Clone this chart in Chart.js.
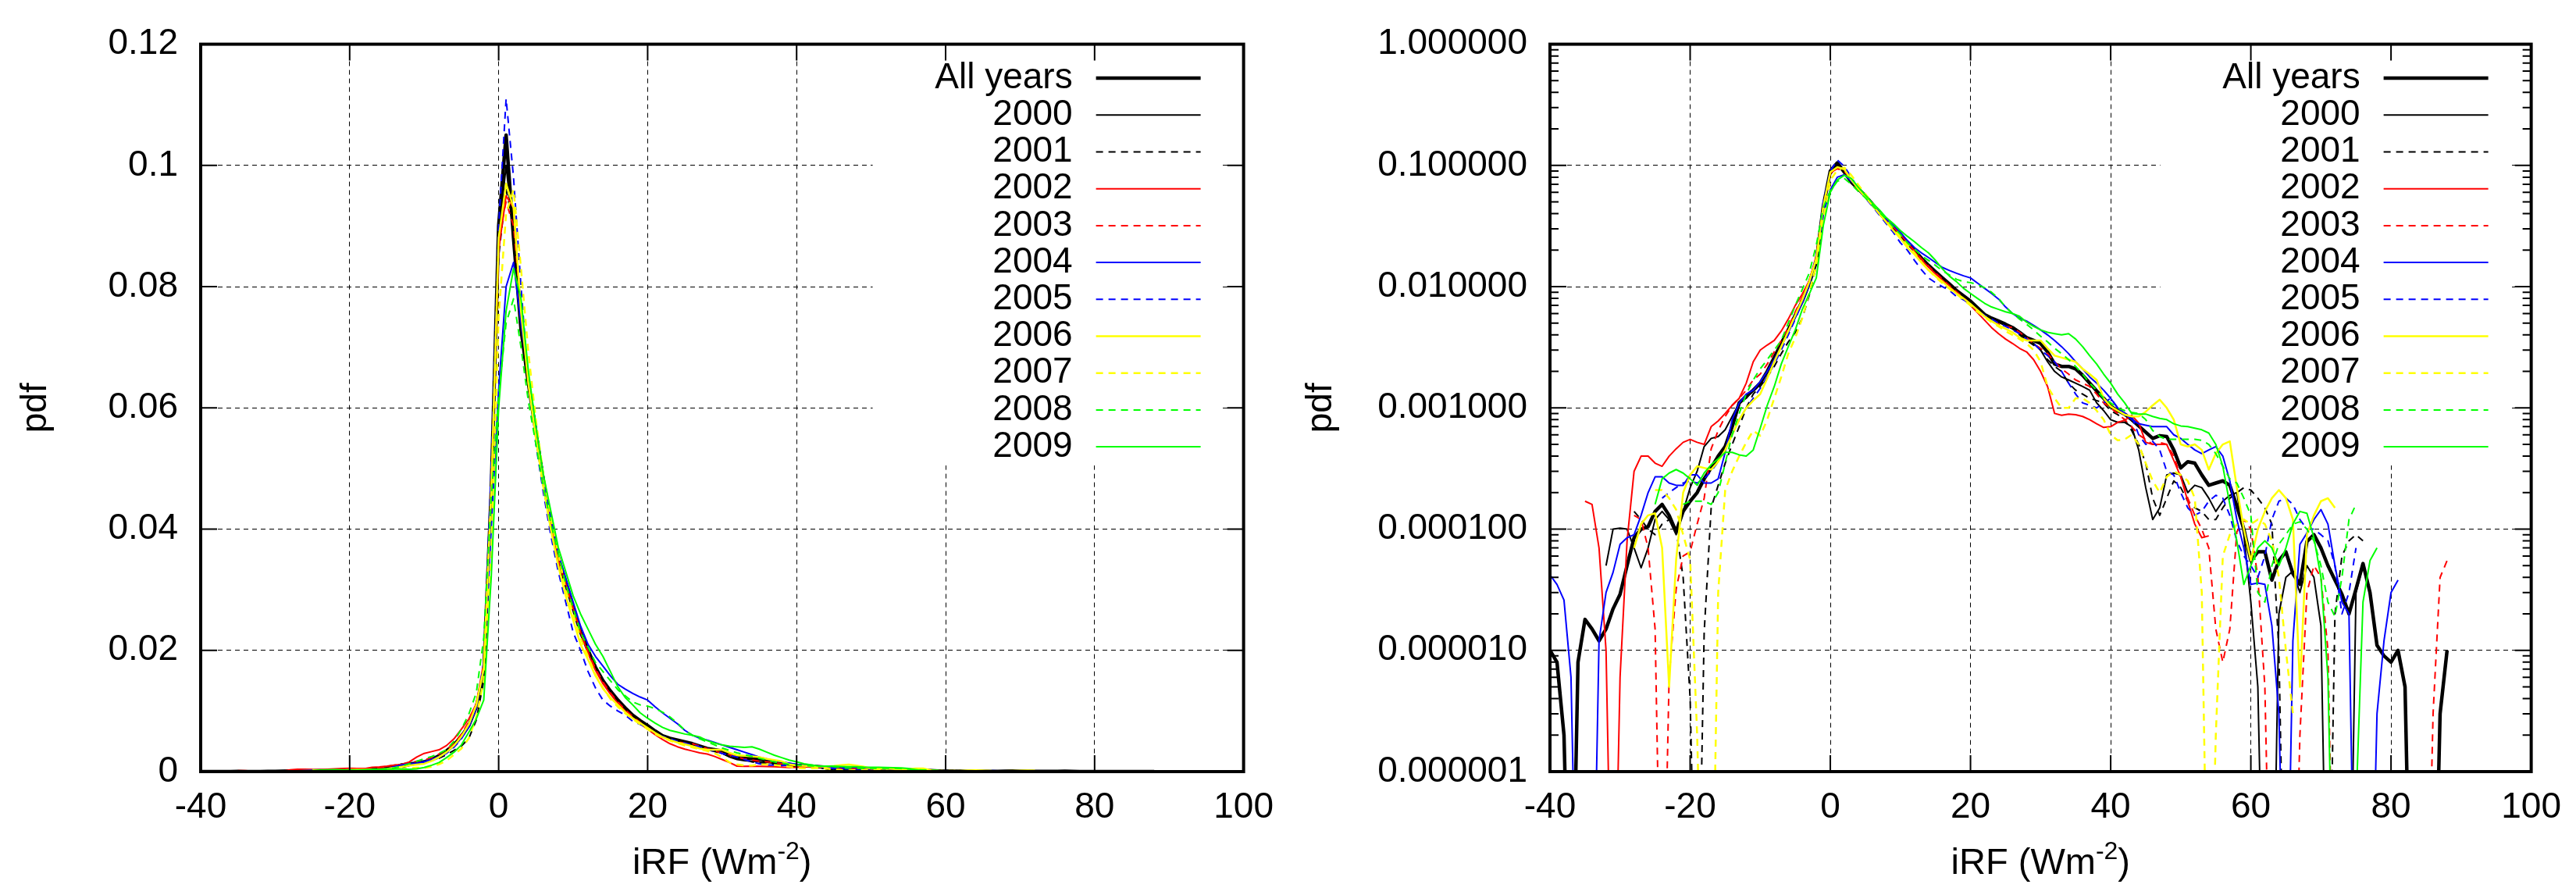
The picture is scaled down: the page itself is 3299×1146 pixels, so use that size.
<!DOCTYPE html>
<html>
<head>
<meta charset="utf-8">
<title>iRF pdf</title>
<script src="https://cdn.jsdelivr.net/npm/chart.js@4/dist/chart.umd.min.js"></script>
<style>
  html, body { margin: 0; padding: 0; background: #fff; }
  #wrap { position: relative; width: 3299px; height: 1146px; }
  .panel { position: absolute; top: 0; height: 1146px; }
  #p1 { left: 0; width: 1650px; }
  #p2 { left: 1650px; width: 1649px; }
</style>
</head>
<body>
<div id="wrap">
  <div class="panel" id="p1"><canvas id="c1" width="1650" height="1146"></canvas></div>
  <div class="panel" id="p2"><canvas id="c2" width="1649" height="1146"></canvas></div>
</div>
<script>
// bin centres (Wm-2)
const xValues = [
  -40, -39, -38, -37, -36, -35, -34, -33, -32, -31,
  -30, -29, -28, -27, -26, -25, -24, -23, -22, -21,
  -20, -19, -18, -17, -16, -15, -14, -13, -12, -11,
  -10, -9, -8, -7, -6, -5, -4, -3, -2, -1,
  0, 1, 2, 3, 4, 5, 6, 7, 8, 9,
  10, 11, 12, 13, 14, 15, 16, 17, 18, 19,
  20, 21, 22, 23, 24, 25, 26, 27, 28, 29,
  30, 31, 32, 33, 34, 35, 36, 37, 38, 39,
  40, 41, 42, 43, 44, 45, 46, 47, 48, 49,
  50, 51, 52, 53, 54, 55, 56, 57, 58, 59,
  60, 61, 62, 63, 64, 65, 66, 67, 68, 69,
  70, 71, 72, 73, 74, 75, 76, 77, 78, 79,
  80, 81, 82, 83, 84, 85, 86, 87, 88
];

const seriesNames = ['All years', '2000', '2001', '2002', '2003', '2004', '2005', '2006', '2007', '2008', '2009'];

// pdf per bin; 1e-8 = bin far below the plotted range
const allYears = [
  1.0e-5, 8e-6, 2e-6, 1e-8, 8e-6, 1.8e-5, 1.5e-5, 1.2e-5, 1.5e-5, 2.2e-5,
  2.9e-5, 5e-5, 8.5e-5, 1.0e-4, 1.05e-4, 1.4e-4, 1.6e-4, 1.3e-4, 9.5e-5, 1.4e-4,
  1.7e-4, 2.0e-4, 2.6e-4, 3.2e-4, 4.0e-4, 4.8e-4, 7.0e-4, 1.1e-3, 1.25e-3, 1.4e-3,
  1.6e-3, 2.0e-3, 2.6e-3, 3.4e-3, 4.4e-3, 5.8e-3, 7.6e-3, 0.0107, 0.016, 0.046,
  0.090, 0.105, 0.088, 0.073, 0.064, 0.056, 0.048, 0.041, 0.035, 0.031,
  0.027, 0.023, 0.020, 0.0172, 0.015, 0.0133, 0.0118, 0.0105, 0.0093, 0.0084,
  0.0076, 0.0067, 0.0059, 0.0055, 0.0052, 0.0049, 0.0046, 0.0042, 0.0038, 0.0036,
  0.0034, 0.0029, 0.0023, 0.0022, 0.0022, 0.0021, 0.00186, 0.0016, 0.00138, 0.0012,
  0.00103, 0.00095, 0.00089, 0.0008, 0.00071, 0.00063, 0.00056, 0.00059, 0.00058, 0.00045,
  0.00032, 0.00036, 0.00035, 0.00028, 0.00023, 0.00024, 0.00025, 0.00023, 0.000155, 0.0001,
  5.5e-5, 6.5e-5, 6.5e-5, 3.8e-5, 5.5e-5, 6.5e-5, 4.3e-5, 3.5e-5, 7.9e-5, 9e-5,
  7e-5, 5e-5, 3.8e-5, 2.9e-5, 2e-5, 3.2e-5, 5.2e-5, 3e-5, 1.1e-5, 9e-6,
  8e-6, 1e-5, 5e-6, 1e-8, 1e-8, 1e-8, 1e-8, 3e-6, 1e-5
];

const y2000 = [
  null, null, null, null, null, null, null, null, 5e-5, 1.0e-4,
  1.02e-4, 1.0e-4, 7e-5, 4.8e-5, 7e-5, 1.2e-4, 1.4e-4, 1.2e-4, 9e-5, 1.4e-4,
  2.2e-4, 3.0e-4, 4.8e-4, 5.6e-4, 5.8e-4, 6.6e-4, 8.5e-4, 1.1e-3, 1.2e-3, 1.4e-3,
  1.6e-3, 2.0e-3, 2.6e-3, 3.5e-3, 4.5e-3, 6.0e-3, 7.8e-3, 0.011, 0.017, 0.047,
  0.088, 0.100, 0.088, 0.074, 0.064, 0.056, 0.048, 0.041, 0.035, 0.031,
  0.027, 0.023, 0.020, 0.017, 0.0148, 0.013, 0.0116, 0.0103, 0.0092, 0.0083,
  0.0075, 0.0066, 0.0058, 0.0054, 0.0051, 0.0048, 0.0045, 0.0041, 0.0037, 0.0034,
  0.003, 0.0024, 0.002, 0.0018, 0.0017, 0.0016, 0.0015, 0.0014, 0.0011, 0.00095,
  0.0008, 0.00076, 0.00076, 0.0007, 0.00045, 0.00022, 0.00012, 0.00015, 0.00028, 0.00029,
  0.00028, 0.0002, 0.00023, 0.00022, 0.00018, 0.00014, 0.00017, 0.00019, 0.0002, 9e-5,
  2.5e-5, 5e-6, 1e-8, 1e-8, 2e-5, 4e-5, 4.5e-5, 3e-5, 5e-5, 4e-5,
  1.6e-5, 1e-8, 1e-8, 1e-8, 1e-8, 3e-5, 5e-5, null, null, null,
  null, null, null, null, null, null, null, null, null
];

const y2001 = [
  null, null, null, null, null, null, null, null, null, null,
  null, null, 1.4e-4, 1.2e-4, 1.0e-4, 9e-5, 1.1e-4, 1.2e-4, 1.0e-4, 4e-5,
  4e-6, 1e-8, 1.4e-5, 1.5e-4, 2.3e-4, 3.5e-4, 5e-4, 7e-4, 1.0e-3, 1.3e-3,
  1.5e-3, 1.8e-3, 2.2e-3, 2.8e-3, 3.5e-3, 4.2e-3, 5.5e-3, 8.5e-3, 0.015, 0.042,
  0.085, 0.096, 0.090, 0.076, 0.065, 0.057, 0.049, 0.042, 0.036, 0.031,
  0.027, 0.023, 0.020, 0.0172, 0.015, 0.0132, 0.0117, 0.0104, 0.0093, 0.0083,
  0.0075, 0.0066, 0.0058, 0.0054, 0.0051, 0.0048, 0.0045, 0.004, 0.0036, 0.0033,
  0.003, 0.0025, 0.0022, 0.002, 0.0016, 0.0014, 0.0013, 0.0012, 0.00115, 0.0011,
  0.00095, 0.00088, 0.0008, 0.00065, 0.0005, 0.00035, 0.00018, 0.00013, 0.00018, 0.00025,
  0.00022, 0.00017, 0.00015, 0.00014, 0.00012, 0.00012, 0.00015, 0.00018, 0.0002, 0.00022,
  0.00021, 0.00018, 0.00015, 0.00011, 1e-5, 1e-8, 1e-8, 1e-8, 1e-8, 1e-8,
  1e-8, 1e-8, 2e-5, 6e-5, 8e-5, 9e-5, 8e-5, null, null, null,
  null, null, null, null, null, null, null, null, null
];

const y2002 = [
  null, null, null, null, null, 1.7e-4, 1.6e-4, 7e-5, 1e-5, 1e-8,
  6e-6, 8e-5, 3.0e-4, 4.0e-4, 4.0e-4, 3.5e-4, 3.3e-4, 4.0e-4, 4.6e-4, 5.2e-4,
  5.5e-4, 5.2e-4, 5.0e-4, 7.0e-4, 7.8e-4, 9.0e-4, 1.05e-3, 1.2e-3, 1.6e-3, 2.4e-3,
  3.0e-3, 3.3e-3, 3.6e-3, 4.3e-3, 5.4e-3, 7.0e-3, 8.7e-3, 0.0112, 0.018, 0.047,
  0.086, 0.095, 0.093, 0.076, 0.064, 0.056, 0.048, 0.041, 0.035, 0.031,
  0.027, 0.023, 0.0195, 0.0167, 0.0145, 0.0128, 0.0113, 0.0100, 0.0089, 0.0079,
  0.0070, 0.0061, 0.0053, 0.0046, 0.0041, 0.0037, 0.0034, 0.0031, 0.0029, 0.0025,
  0.0020, 0.0015, 0.0009, 0.00087, 0.00089, 0.00088, 0.00085, 0.0008, 0.00074, 0.00069,
  0.0007, 0.00076, 0.00079, 0.00087, 0.00075, 0.00052, 0.0005, 0.0005, 0.0005, 0.00037,
  0.00027, 0.00017, 0.00011, 8.5e-5, 8.8e-5, null, null, null, null, null,
  null, null, null, null, null, null, null, null, null, null,
  null, null, null, null, null, null, null, null, null, null,
  null, null, null, null, null, null, null, null, null
];

const y2003 = [
  null, null, null, null, null, null, null, null, null, null,
  null, null, 1.3e-4, 1.2e-4, 7e-5, 1.5e-5, 1e-8, 6e-6, 3.2e-5, 6e-5,
  6.5e-5, 1.1e-4, 1.8e-4, 4.6e-4, 6.5e-4, 8.5e-4, 1.05e-3, 1.2e-3, 1.4e-3, 1.7e-3,
  1.9e-3, 2.3e-3, 2.9e-3, 3.6e-3, 4.6e-3, 6.2e-3, 8.2e-3, 0.0112, 0.017, 0.045,
  0.088, 0.094, 0.090, 0.076, 0.065, 0.056, 0.048, 0.041, 0.035, 0.031,
  0.027, 0.023, 0.0198, 0.017, 0.0148, 0.013, 0.0115, 0.0102, 0.0091, 0.0081,
  0.0072, 0.0064, 0.0057, 0.0052, 0.0049, 0.0047, 0.0046, 0.0042, 0.0038, 0.0034,
  0.0031, 0.0028, 0.0024, 0.0021, 0.0019, 0.0017, 0.0016, 0.0015, 0.0013, 0.0011,
  0.001, 0.0009, 0.0008, 0.0007, 0.0006, 0.00055, 0.0005, 0.00052, 0.0005, 0.0004,
  0.00027, 0.00018, 0.00013, 0.0001, 7e-5, 1.5e-5, 8e-6, 1.5e-5, 9.5e-5, 1.2e-4,
  1.0e-4, 4e-5, 5e-6, 1e-8, 1e-8, 1e-8, 1e-8, 2e-6, 3e-5, 5e-5,
  4e-5, 1e-5, 1e-8, 1e-8, 1e-8, 1e-8, 1e-8, 1e-8, 1e-8, 1e-8,
  1e-8, 1e-8, 1e-8, 1e-8, 1e-8, 1e-8, 3e-6, 4e-5, 5.5e-5
];

const y2004 = [
  4.2e-5, 3.5e-5, 2.6e-5, 6e-6, 1e-8, 1e-8, 1e-8, 1.2e-5, 3e-5, 4.4e-5,
  7.5e-5, 8.5e-5, 9e-5, 1.3e-4, 2e-4, 2.7e-4, 2.7e-4, 2.4e-4, 2.3e-4, 2.3e-4,
  2.8e-4, 2.8e-4, 2.4e-4, 2.4e-4, 2.6e-4, 4.3e-4, 8e-4, 1.1e-3, 1.3e-3, 1.4e-3,
  1.65e-3, 2.0e-3, 2.5e-3, 3.2e-3, 4.2e-3, 5.6e-3, 7.4e-3, 0.0105, 0.017, 0.040,
  0.063, 0.080, 0.084, 0.074, 0.065, 0.057, 0.048, 0.042, 0.036, 0.032,
  0.028, 0.024, 0.021, 0.019, 0.0174, 0.0158, 0.0144, 0.0136, 0.0129, 0.0123,
  0.0118, 0.0107, 0.0097, 0.0088, 0.0079, 0.0068, 0.006, 0.0055, 0.0052, 0.0048,
  0.0044, 0.004, 0.0036, 0.0032, 0.0028, 0.0024, 0.0021, 0.0018, 0.0016, 0.0014,
  0.0012, 0.001, 0.0009, 0.0008, 0.00074, 0.00072, 0.0007, 0.0007, 0.0007, 0.0006,
  0.00056, 0.0005, 0.00045, 0.00042, 0.00045, 0.00048, 0.0004, 0.00025, 0.00012, 7e-5,
  3.5e-5, 3.6e-5, 3.5e-5, 1.6e-5, 3e-6, 1e-8, 1.2e-5, 7.5e-5, 9.3e-5, 1.2e-4,
  1.45e-4, 1.1e-4, 5e-5, 2.5e-5, 2e-5, 1e-8, 1e-8, 1e-8, 3e-6, 1.2e-5,
  3e-5, 3.8e-5, null, null, null, null, null, null, null
];

const y2005 = [
  null, null, null, null, null, null, null, null, null, null,
  null, null, null, null, null, null, 1.8e-4, 2e-4, 2.2e-4, 2.4e-4,
  2.5e-4, 2.4e-4, 2.6e-4, 3.0e-4, 3.6e-4, 4.5e-4, 6e-4, 8e-4, 1.0e-3, 1.2e-3,
  1.45e-3, 1.8e-3, 2.3e-3, 3.0e-3, 4.0e-3, 5.4e-3, 7.4e-3, 0.0105, 0.018, 0.050,
  0.090, 0.111, 0.098, 0.080, 0.064, 0.054, 0.046, 0.039, 0.033, 0.028,
  0.023, 0.020, 0.0165, 0.0138, 0.0118, 0.0108, 0.0100, 0.0093, 0.0083, 0.0078,
  0.0072, 0.0064, 0.0058, 0.0054, 0.005, 0.0047, 0.0044, 0.0041, 0.0037, 0.0034,
  0.003, 0.0027, 0.0024, 0.002, 0.0016, 0.0013, 0.0011, 0.00105, 0.001, 0.0011,
  0.0012, 0.001, 0.0009, 0.00085, 0.0006, 0.0005, 0.00053, 0.00045, 0.0003, 0.00028,
  0.0002, 0.00015, 0.00013, 0.00014, 0.00017, 0.00019, 0.00018, 0.00013, 8e-5, 6e-5,
  5e-5, 4e-5, 6e-5, 1.2e-4, 1.7e-4, 1.8e-4, 1.6e-4, 1.2e-4, 1.0e-4, 1.0e-4,
  9e-5, 8e-5, 5e-5, 2e-5, 3e-5, 7e-5, null, null, null, null,
  null, null, null, null, null, null, null, null, null
];

const y2006 = [
  null, null, null, null, null, null, null, null, null, null,
  null, null, 7e-5, 1.1e-4, 1.3e-4, 1.35e-4, 7e-5, 5e-6, 5.6e-5, 2e-4,
  2.8e-4, 3.3e-4, 3.2e-4, 3.1e-4, 3.6e-4, 4.5e-4, 6e-4, 8e-4, 1.0e-3, 1.15e-3,
  1.3e-3, 1.75e-3, 2.4e-3, 3.2e-3, 4.3e-3, 5.8e-3, 7.8e-3, 0.011, 0.017, 0.046,
  0.088, 0.097, 0.093, 0.076, 0.064, 0.055, 0.047, 0.040, 0.034, 0.029,
  0.025, 0.021, 0.0185, 0.0158, 0.0137, 0.0122, 0.011, 0.0098, 0.0088, 0.008,
  0.0072, 0.0064, 0.0057, 0.0052, 0.0048, 0.0045, 0.0042, 0.0038, 0.0036, 0.0036,
  0.0036, 0.0031, 0.0027, 0.0026, 0.0025, 0.0024, 0.0021, 0.0019, 0.0017, 0.0012,
  0.00103, 0.00095, 0.00088, 0.00085, 0.00085, 0.00093, 0.00105, 0.00117, 0.001, 0.0008,
  0.0005, 0.00048, 0.0005, 0.00045, 0.00031, 0.00042, 0.0005, 0.00053, 0.00022, 1.0e-4,
  5.5e-5, 1.0e-4, 1.4e-4, 1.8e-4, 2.1e-4, 1.8e-4, 1.2e-4, 5e-6, 9e-5, 1.3e-4,
  1.7e-4, 1.8e-4, 1.5e-4, null, null, null, null, null, null, null,
  null, null, null, null, null, null, null, null, null
];

const y2007 = [
  null, null, null, null, null, null, null, null, null, null,
  null, null, null, null, null, 2.1e-4, 2.1e-4, 1.8e-4, 1.45e-4, 9e-5,
  5.6e-5, 2e-6, 1e-8, 1e-8, 3e-5, 2.1e-4, 3e-4, 4e-4, 5.2e-4, 6.5e-4,
  5.9e-4, 8e-4, 1.2e-3, 1.8e-3, 2.8e-3, 3.8e-3, 5.5e-3, 9e-3, 0.015, 0.036,
  0.075, 0.092, 0.096, 0.083, 0.069, 0.058, 0.049, 0.042, 0.036, 0.030,
  0.026, 0.022, 0.019, 0.016, 0.0138, 0.012, 0.0107, 0.0096, 0.0087, 0.0078,
  0.007, 0.0062, 0.0056, 0.0051, 0.0047, 0.0043, 0.004, 0.0037, 0.0034, 0.003,
  0.0024, 0.0015, 0.0012, 0.001, 0.001, 0.0012, 0.0012, 0.0011, 0.00095, 0.0008,
  0.0006, 0.00054, 0.00055, 0.0006, 0.0005, 0.00035, 0.00025, 0.0002, 0.00027, 0.0003,
  0.00028, 0.00025, 0.00018, 3e-5, 1e-8, 2e-6, 6e-5, 9e-5, 1.1e-4, 1.2e-4,
  1.1e-4, 1.2e-4, 1.1e-4, 8e-5, 4e-5, 1e-5, 3e-6, null, null, null,
  null, null, null, null, null, null, null, null, null, null,
  null, null, null, null, null, null, null, null, null
];

const y2008 = [
  null, null, null, null, null, null, null, null, null, null,
  null, null, null, null, null, null, null, null, null, 1.6e-4,
  1.7e-4, 1.7e-4, 1.7e-4, 1.6e-4, 2e-4, 3.5e-4, 6e-4, 9e-4, 1.3e-3, 1.7e-3,
  2.1e-3, 2.5e-3, 3.0e-3, 3.6e-3, 5.0e-3, 7.0e-3, 9.5e-3, 0.013, 0.022, 0.045,
  0.062, 0.074, 0.078, 0.070, 0.061, 0.054, 0.047, 0.041, 0.036, 0.031,
  0.027, 0.023, 0.0205, 0.018, 0.0165, 0.015, 0.0135, 0.0125, 0.0115, 0.011,
  0.0108, 0.0104, 0.0098, 0.009, 0.008, 0.0068, 0.006, 0.0054, 0.0049, 0.0044,
  0.0039, 0.0035, 0.0031, 0.0028, 0.0025, 0.0022, 0.0019, 0.0016, 0.0014, 0.0012,
  0.0011, 0.001, 0.00095, 0.00092, 0.0009, 0.0008, 0.00065, 0.00058, 0.00055, 0.00055,
  0.00055, 0.00055, 0.00055, 0.00054, 0.0005, 0.00042, 0.00033, 0.00026, 0.00024, 0.00018,
  1.3e-4, 3e-5, 2.5e-5, 5e-5, 7.5e-5, 9e-5, 1.1e-4, 1.15e-4, 1e-4, 8e-5,
  5e-5, 2.5e-5, 1.9e-5, 4e-5, 1.2e-4, 1.6e-4, null, null, null, null,
  null, null, null, null, null, null, null, null, null
];

const y2009 = [
  null, null, null, null, null, null, null, null, null, null,
  null, null, null, null, null, 1.6e-4, 2.6e-4, 2.9e-4, 3.1e-4, 2.9e-4,
  2.6e-4, 2.3e-4, 2.9e-4, 3.4e-4, 3.8e-4, 4.3e-4, 4.3e-4, 4.1e-4, 4.0e-4, 4.5e-4,
  6.8e-4, 1.05e-3, 1.5e-3, 2.3e-3, 3.2e-3, 4.4e-3, 6.5e-3, 8.7e-3, 0.0118, 0.032,
  0.060, 0.076, 0.083, 0.078, 0.066, 0.057, 0.049, 0.043, 0.037, 0.033,
  0.029, 0.026, 0.0235, 0.021, 0.019, 0.0165, 0.014, 0.0122, 0.011, 0.0097,
  0.0088, 0.008, 0.0073, 0.0068, 0.0065, 0.0062, 0.006, 0.0057, 0.0051, 0.0047,
  0.0044, 0.0042, 0.0041, 0.004, 0.0041, 0.0037, 0.0032, 0.0027, 0.0023, 0.0019,
  0.0016, 0.0013, 0.0011, 0.0009, 0.00089, 0.00089, 0.00085, 0.00082, 0.0008, 0.00074,
  0.00071, 0.0007, 0.00068, 0.00066, 0.00062, 0.0005, 0.00033, 0.00016, 8e-5, 3.5e-5,
  5e-5, 7e-5, 8e-5, 7e-5, 5e-5, 7e-5, 1.1e-4, 1.4e-4, 1.35e-4, 8.5e-5,
  4e-5, 6e-6, 1e-8, 1e-8, 1e-8, 5e-7, 2.5e-5, 5.5e-5, 7e-5, null,
  null, null, null, null, null, null, null, null, null
];

const xTicks = [-40, -20, 0, 20, 40, 60, 80, 100];
const xTickLabels = ['-40', '-20', '0', '20', '40', '60', '80', '100'];
const linTicks = [0, 0.02, 0.04, 0.06, 0.08, 0.1, 0.12];
const linTickLabels = ['0', '0.02', '0.04', '0.06', '0.08', '0.1', '0.12'];
const logTicks = [0.000001, 0.00001, 0.0001, 0.001, 0.01, 0.1, 1];
const logTickLabels = ['0.000001', '0.000010', '0.000100', '0.001000', '0.010000', '0.100000', '1.000000'];

// line styles (gnuplot default palette)
const seriesValues = [allYears, y2000, y2001, y2002, y2003, y2004, y2005, y2006, y2007, y2008, y2009];
const lineColors = ['#000000', '#000000', '#000000', '#ff0000', '#ff0000', '#0000ff', '#0000ff', '#ffff00', '#ffff00', '#00ff00', '#00ff00'];
const lineDashed = [false, false, true, false, true, false, true, false, true, true, false];
const lineWidths = [4.5, 2, 2, 2, 2, 2, 2, 2.5, 2.5, 2, 2];

const FONT = '"Liberation Sans", Arial, sans-serif';
Chart.defaults.font.family = FONT;
Chart.defaults.font.size = 46;
Chart.defaults.color = '#000';

function makeDatasets() {
    return seriesValues.map((vals, i) => ({
        label: seriesNames[i],
        data: xValues.map((x, j) => ({ x: x, y: vals[j] })),
        borderColor: lineColors[i],
        borderWidth: lineWidths[i],
        borderDash: lineDashed[i] ? [9, 7] : [],
        borderJoinStyle: 'round',
        pointRadius: 0,
        fill: false,
        tension: 0,
        spanGaps: false,
        order: seriesValues.length - i   // first series underneath, like gnuplot
    }));
}

// frame, inward ticks, opaque key box, key and axis titles
const gnuplotLook = {
    id: 'gnuplotLook',
    beforeDatasetsDraw(chart, args, opts) {
        const a = chart.chartArea;
        const ctx = chart.ctx;
        ctx.save();
        ctx.fillStyle = '#fff';
        ctx.fillRect(a.right - 475, a.top + 2, 447, 594 - a.top);
        ctx.restore();
    },
    afterDatasetsDraw(chart, args, opts) {
        const a = chart.chartArea;
        const ctx = chart.ctx;
        const xs = chart.scales.x;
        const ys = chart.scales.y;
        ctx.save();
        ctx.strokeStyle = '#000';
        ctx.lineWidth = 2;
        ctx.setLineDash([]);
        ctx.beginPath();
        xTicks.forEach(v => {
            const px = xs.getPixelForValue(v);
            ctx.moveTo(px, a.bottom); ctx.lineTo(px, a.bottom - 21);
            ctx.moveTo(px, a.top); ctx.lineTo(px, a.top + 21);
        });
        opts.yTicks.forEach(v => {
            const py = ys.getPixelForValue(v);
            ctx.moveTo(a.left, py); ctx.lineTo(a.left + 21, py);
            ctx.moveTo(a.right, py); ctx.lineTo(a.right - 21, py);
        });
        if (opts.log) {
            opts.yTicks.slice(0, -1).forEach(d => {
                for (let m = 2; m <= 9; m++) {
                    const py = ys.getPixelForValue(m * d);
                    ctx.moveTo(a.left, py); ctx.lineTo(a.left + 11, py);
                    ctx.moveTo(a.right, py); ctx.lineTo(a.right - 11, py);
                }
            });
        }
        ctx.stroke();

        ctx.lineWidth = 4;
        ctx.strokeRect(a.left, a.top, a.right - a.left, a.bottom - a.top);

        // key
        ctx.font = '46px ' + FONT;
        ctx.textAlign = 'right';
        ctx.textBaseline = 'middle';
        ctx.fillStyle = '#000';
        chart.data.datasets.forEach((ds, i) => {
            const y = a.top + 43.5 + 47.2 * i;
            ctx.fillText(ds.label, a.right - 219, y);
            ctx.beginPath();
            ctx.strokeStyle = ds.borderColor;
            ctx.lineWidth = ds.borderWidth;
            ctx.setLineDash(ds.borderDash);
            ctx.moveTo(a.right - 189, y);
            ctx.lineTo(a.right - 55, y);
            ctx.stroke();
        });
        ctx.restore();
    },
    afterDraw(chart, args, opts) {
        const a = chart.chartArea;
        const ctx = chart.ctx;
        ctx.save();
        ctx.fillStyle = '#000';
        // x title with superscript
        const main1 = 'iRF (Wm', sup = '-2', main2 = ')';
        const bigFont = '47px ' + FONT, smallFont = '32px ' + FONT;
        ctx.font = bigFont;
        const w1 = ctx.measureText(main1).width;
        const w3 = ctx.measureText(main2).width;
        ctx.font = smallFont;
        const w2 = ctx.measureText(sup).width;
        const base = a.bottom + 131;
        let x0 = (a.left + a.right) / 2 - (w1 + w2 + w3) / 2;
        ctx.textAlign = 'left';
        ctx.textBaseline = 'alphabetic';
        ctx.font = bigFont;
        ctx.fillText(main1, x0, base);
        ctx.font = smallFont;
        ctx.fillText(sup, x0 + w1, base - 19);
        ctx.font = bigFont;
        ctx.fillText(main2, x0 + w1 + w2, base);
        // y title
        ctx.translate(opts.yTitleX, (a.top + a.bottom) / 2);
        ctx.rotate(-Math.PI / 2);
        ctx.textAlign = 'center';
        ctx.textBaseline = 'middle';
        ctx.font = '46px ' + FONT;
        ctx.fillText('pdf', 0, 0);
        ctx.restore();
    }
};

function xScaleOptions() {
    return {
        type: 'linear',
        min: -40,
        max: 100,
        afterBuildTicks: s => { s.ticks = xTicks.map(v => ({ value: v })); },
        afterFit: s => { s.height = 158; },
        ticks: { padding: 19, autoSkip: false, maxRotation: 0, callback: (v, i) => xTickLabels[i] },
        grid: { color: '#000', lineWidth: 1, drawTicks: false },
        border: { display: false, dash: [6, 5] }
    };
}

// left: linear pdf
new Chart(document.getElementById('c1'), {
    type: 'line',
    data: { datasets: makeDatasets() },
    options: {
        responsive: false,
        devicePixelRatio: 1,
        animation: false,
        layout: { padding: { top: 53, right: 52, left: 0, bottom: 0 } },
        scales: {
            x: xScaleOptions(),
            y: {
                type: 'linear',
                min: 0,
                max: 0.12,
                afterBuildTicks: s => { s.ticks = linTicks.map(v => ({ value: v })); },
                afterFit: s => { s.width = 257; },
                ticks: { padding: 29, autoSkip: false, callback: (v, i) => linTickLabels[i] },
                grid: { color: '#000', lineWidth: 1, drawTicks: false },
                border: { display: false, dash: [6, 5] }
            }
        },
        plugins: {
            legend: { display: false },
            tooltip: { enabled: false },
            gnuplotLook: { log: false, yTicks: linTicks, yTitleX: 46 }
        }
    },
    plugins: [gnuplotLook]
});

// right: same pdfs on a log axis
new Chart(document.getElementById('c2'), {
    type: 'line',
    data: { datasets: makeDatasets() },
    options: {
        responsive: false,
        devicePixelRatio: 1,
        animation: false,
        layout: { padding: { top: 53, right: 54, left: 0, bottom: 0 } },
        scales: {
            x: xScaleOptions(),
            y: {
                type: 'logarithmic',
                min: 0.000001,
                max: 1,
                afterBuildTicks: s => { s.ticks = logTicks.map(v => ({ value: v })); },
                afterFit: s => { s.width = 335; },
                ticks: { padding: 29, autoSkip: false, callback: (v, i) => logTickLabels[i] },
                grid: { color: '#000', lineWidth: 1, drawTicks: false },
                border: { display: false, dash: [6, 5] }
            }
        },
        plugins: {
            legend: { display: false },
            tooltip: { enabled: false },
            gnuplotLook: { log: true, yTicks: logTicks, yTitleX: 42 }
        }
    },
    plugins: [gnuplotLook]
});
</script>
</body>
</html>
